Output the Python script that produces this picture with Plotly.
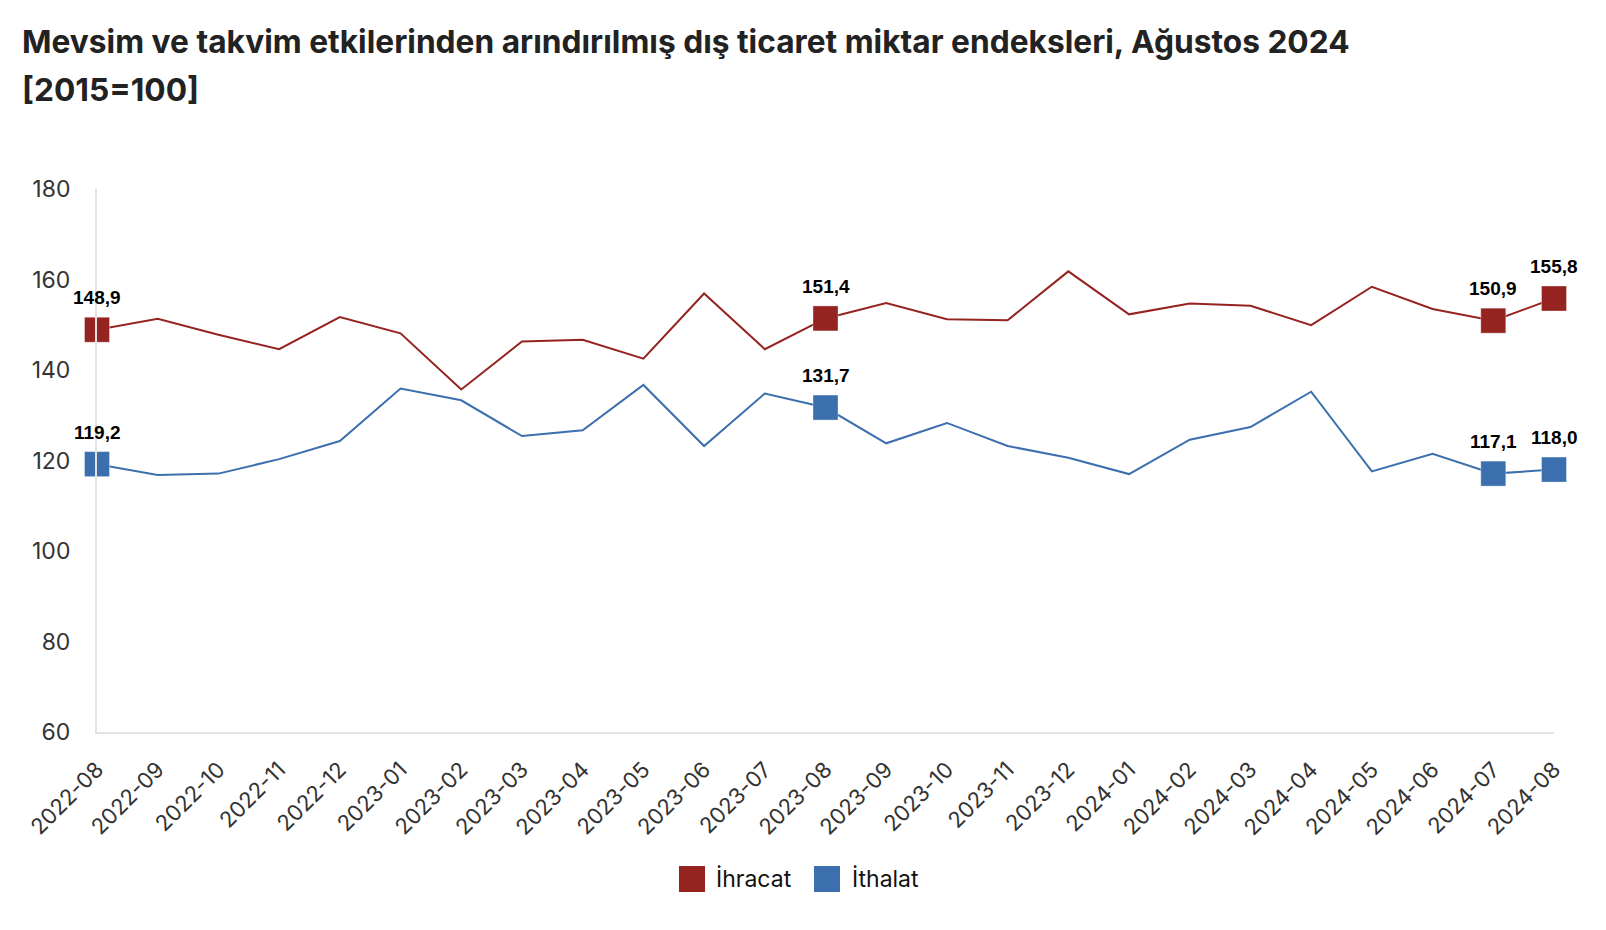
import plotly.graph_objects as go

# ---------------- data ----------------
months = ["2022-08", "2022-09", "2022-10", "2022-11", "2022-12",
          "2023-01", "2023-02", "2023-03", "2023-04", "2023-05", "2023-06",
          "2023-07", "2023-08", "2023-09", "2023-10", "2023-11", "2023-12",
          "2024-01", "2024-02", "2024-03", "2024-04", "2024-05", "2024-06",
          "2024-07", "2024-08"]
ihracat = [148.9, 151.3, 147.8, 144.6, 151.7, 148.1, 135.7, 146.3, 146.7,
           142.5, 156.9, 144.6, 151.4, 154.8, 151.2, 151.0, 161.8, 152.3,
           154.7, 154.2, 149.9, 158.4, 153.5, 150.9, 155.8]
ithalat = [119.2, 116.8, 117.1, 120.3, 124.3, 135.9, 133.3, 125.4, 126.7,
           136.7, 123.2, 134.8, 131.7, 123.8, 128.3, 123.2, 120.6, 117.0,
           124.6, 127.4, 135.2, 117.6, 121.5, 117.1, 118.0]
highlight_idx = [0, 12, 23, 24]
series_names = ["İhracat", "İthalat"]
y_ticks = [60, 80, 100, 120, 140, 160, 180]
title_lines = ["Mevsim ve takvim etkilerinden arındırılmış dış ticaret miktar endeksleri, Ağustos 2024",
               "[2015=100]"]

# ---------------- style ----------------
W, H = 1606, 930
ML, MR, MT, MB = 97, 52, 189, 198
RED = "#952320"
BLUE = "#3b6fae"
FONT = "Inter, Roboto, 'Noto Sans', sans-serif"
LABEL_FONT = "'Liberation Sans', Arial, sans-serif"


def fmt(v):
    return f"{v:.1f}".replace(".", ",")


def px_x(x):
    return (x - ML) / (W - ML - MR)


def px_y(y):
    return (H - MB - y) / (H - MT - MB)


fig = go.Figure()

for name, vals, col in [(series_names[0], ihracat, RED), (series_names[1], ithalat, BLUE)]:
    fig.add_trace(go.Scatter(
        x=months, y=vals, mode="lines", name=name,
        line=dict(color=col, width=2), showlegend=False,
        hoverinfo="skip", cliponaxis=False,
    ))
    hx = [months[i] for i in highlight_idx]
    hy = [vals[i] for i in highlight_idx]
    fig.add_trace(go.Scatter(
        x=hx, y=hy, mode="markers", name=name,
        marker=dict(symbol="square", size=25, color=col,
                    line=dict(width=1, color="rgba(255,255,255,0.35)")),
        showlegend=False, cliponaxis=False,
    ))
    for xv, yv in zip(hx, hy):
        fig.add_annotation(x=xv, y=yv, xref="x", yref="y", text=fmt(yv),
                           showarrow=False, yshift=32, xanchor="center", yanchor="middle",
                           font=dict(family=LABEL_FONT, size=19, color="#000000", weight="bold"))

# legend drawn manually (25px squares)
legend_items = [(series_names[0], RED, 679, 714), (series_names[1], BLUE, 814, 850)]
for name, col, sx, tx in legend_items:
    fig.add_shape(type="rect", xref="paper", yref="paper",
                  x0=px_x(sx), x1=px_x(sx + 26), y0=px_y(866), y1=px_y(892),
                  fillcolor=col, line=dict(width=0))
    fig.add_annotation(xref="paper", yref="paper", x=px_x(tx), y=px_y(879),
                       text=name, showarrow=False, xanchor="left", yanchor="middle",
                       font=dict(family=FONT, size=23, color="#111111"))

# title lines as two annotations
for line, cy in zip(title_lines, [41, 89]):
    fig.add_annotation(xref="paper", yref="paper", x=px_x(20), y=px_y(cy),
                       text=line, showarrow=False, xanchor="left", yanchor="middle",
                       font=dict(family=FONT, size=31.7, color="#222222", weight="bold"))

fig.update_layout(
    width=W, height=H,
    margin=dict(l=ML, r=MR, t=MT, b=MB, autoexpand=False),
    paper_bgcolor="white", plot_bgcolor="white",
    showlegend=False,
    xaxis=dict(type="category", range=[0, len(months) - 1], showgrid=False,
               zeroline=False, showline=True, linecolor="#e2e2e2", linewidth=2,
               ticks="", tickangle=-45, ticklabelstandoff=14, automargin=False,
               tickfont=dict(family=FONT, size=22, color="#333333")),
    yaxis=dict(range=[60, 180], tickvals=y_ticks, showgrid=False, zeroline=False,
               showline=True, linecolor="#e2e2e2", linewidth=2, ticks="",
               ticklabelstandoff=20, automargin=False,
               tickfont=dict(family=FONT, size=23, color="#333333")),
)

fig.write_html("out.html", config={"displayModeBar": False},
               post_script="document.body.style.margin='0px';document.body.style.padding='0px';")
